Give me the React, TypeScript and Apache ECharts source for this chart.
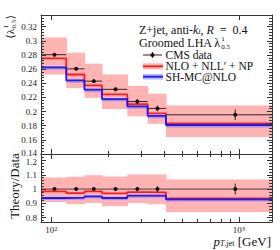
import React, { useEffect, useRef } from "react";
import * as echarts from "echarts";

// ---------------- data ----------------
const binEdges = [88, 120, 150, 186, 254, 326, 408, 1500];
const dataPtX = [103.8, 135.5, 168.3, 219.8, 287, 367.5, 955];

const cmsData = [0.2804, 0.2604, 0.243, 0.2314, 0.2142, 0.2044, 0.1954];
const cmsErr = [0.0022, 0.002, 0.0025, 0.0023, 0.0032, 0.004, 0.0075];
const nloValues = [0.2752, 0.2524, 0.237, 0.2244, 0.2104, 0.1974, 0.1834];
const nloLow = [0.2524, 0.2328, 0.2194, 0.2036, 0.1934, 0.1827, 0.164];
const nloHigh = [0.3046, 0.2832, 0.2678, 0.2524, 0.236, 0.2252, 0.2085];
const shValues = [0.2626, 0.244, 0.231, 0.2177, 0.2072, 0.194, 0.181];
const shLow = [0.2592, 0.2406, 0.2276, 0.2143, 0.2038, 0.1906, 0.1776];
const shHigh = [0.2634, 0.2448, 0.2318, 0.2185, 0.208, 0.1948, 0.1818];

const ratioData = [1, 1, 1, 1, 1, 1, 1];
const ratioErr = [0.008, 0.008, 0.01, 0.01, 0.015, 0.02, 0.038];
const nloRatio = [0.984, 0.972, 0.984, 0.97, 0.979, 0.977, 0.935];
const nloRatioLow = [0.91, 0.894, 0.903, 0.88, 0.903, 0.894, 0.84];
const nloRatioHigh = [1.081, 1.086, 1.097, 1.088, 1.102, 1.102, 1.067];
const shRatio = [0.9375, 0.94, 0.949, 0.9375, 0.954, 0.954, 0.928];
const shRatioLow = [0.924, 0.926, 0.935, 0.924, 0.94, 0.94, 0.914];
const shRatioHigh = [0.942, 0.944, 0.953, 0.942, 0.958, 0.958, 0.932];

const xMajorTicks = [100, 1000];
const xMinorTicks = [200, 300, 400, 500, 600, 700, 800, 900];
const topYTicks = [0.14, 0.16, 0.18, 0.2, 0.22, 0.24, 0.26, 0.28, 0.3, 0.32];
const ratioYTicks = [0.8, 0.9, 1, 1.1, 1.2];
const topYRange = [0.14, 0.3365];
const ratioYRange = [0.77, 1.245];

const legendLabels = ["CMS data", "NLO + NLL\u2032 + NP", "SH-MC@NLO"];

// ---------------- style ----------------
const FONT = '"Liberation Serif", "DejaVu Serif", serif';
const AXIS = "#333";
const RED = "#ff1a1a";
const BLUE = "#1a1aff";
const PINK = "#ffb3b3";
const LBLUE = "rgba(110,110,255,0.5)";
const DARK = "#222";

function minorTicks(majors: number[], sub: number, lo: number, hi: number) {
  const step = (majors[1] - majors[0]) / sub;
  const start = majors[0] - Math.floor((majors[0] - lo) / step + 1e-9) * step;
  const out: number[] = [];
  for (let k = 0; k < 500; k++) {
    const v = +(start + k * step).toFixed(5);
    if (v > hi + 1e-9) break;
    if (!majors.some((m) => Math.abs(m - v) < 1e-6)) out.push(v);
  }
  return out;
}

function measure(text: string, size: number, italic = false) {
  const c = document.createElement("canvas").getContext("2d")!;
  c.font = `${italic ? "italic " : ""}${size}px ${FONT}`;
  return c.measureText(text).width;
}

const stepData = (vals: number[]) =>
  vals.map((v, i) => [binEdges[i], v]).concat([[binEdges[binEdges.length - 1], vals[vals.length - 1]]]);
const bandData = (lo: number[], hi: number[]) => lo.map((l, i) => [binEdges[i], binEdges[i + 1], l, hi[i]]);
const pointData = (vals: number[], errs: number[]) =>
  vals.map((v, i) => [dataPtX[i], binEdges[i], binEdges[i + 1], v, errs[i]]);

function bandSeries(xi: number, yi: number, lo: number[], hi: number[], fill: string, extend: boolean, z: number) {
  const xMax = binEdges[binEdges.length - 1];
  return {
    type: "custom",
    xAxisIndex: xi,
    yAxisIndex: yi,
    z,
    silent: true,
    dimensions: ["x0", "x1", "lo", "hi"],
    encode: { x: [0, 1], y: [2, 3] },
    data: bandData(lo, hi),
    renderItem: (params: any, api: any) => {
      const x0 = api.value(0);
      const x1 = api.value(1);
      const a = api.coord([x0, api.value(3)]);
      const b = api.coord([x1, api.value(2)]);
      const ext = extend && x1 < xMax ? 0.7 : 0;
      return {
        type: "rect",
        shape: { x: a[0], y: a[1], width: b[0] - a[0] + ext, height: b[1] - a[1] },
        style: { fill },
      };
    },
  };
}

function stepSeries(xi: number, yi: number, vals: number[], color: string, z: number) {
  return {
    type: "line",
    xAxisIndex: xi,
    yAxisIndex: yi,
    z,
    step: "end",
    silent: true,
    showSymbol: false,
    symbol: "none",
    data: stepData(vals),
    lineStyle: { color, width: 1.8 },
  };
}

function pointSeries(xi: number, yi: number, vals: number[], errs: number[], z: number, lineColor: string) {
  return {
    type: "custom",
    xAxisIndex: xi,
    yAxisIndex: yi,
    z,
    silent: true,
    dimensions: ["x", "xl", "xh", "y", "e"],
    encode: { x: [0, 1, 2], y: [3] },
    data: pointData(vals, errs),
    renderItem: (params: any, api: any) => {
      const x = api.value(0);
      const y = api.value(3);
      const e = api.value(4);
      const c = api.coord([x, y]);
      const l = api.coord([api.value(1), y]);
      const h = api.coord([api.value(2), y]);
      const t = api.coord([x, y + e]);
      const b = api.coord([x, y - e]);
      return {
        type: "group",
        children: [
          { type: "line", shape: { x1: l[0], y1: l[1], x2: h[0], y2: h[1] }, style: { stroke: lineColor, lineWidth: 1 } },
          { type: "line", shape: { x1: t[0], y1: t[1], x2: b[0], y2: b[1] }, style: { stroke: DARK, lineWidth: 1 } },
          { type: "circle", shape: { cx: c[0], cy: c[1], r: 2 }, style: { fill: "#111" } },
        ],
      };
    },
  };
}

function xAxis(gridIndex: number, position: string, ticks: number[], len: number, line: boolean, labels: boolean) {
  return {
    type: "log",
    logBase: 10,
    gridIndex,
    position,
    min: binEdges[0],
    max: binEdges[binEdges.length - 1],
    z: 10,
    silent: true,
    splitLine: { show: false },
    minorTick: { show: false },
    minorSplitLine: { show: false },
    axisLine: { show: line, onZero: false, lineStyle: { color: AXIS, width: 1 } },
    axisTick: { show: true, inside: true, length: len, customValues: ticks, lineStyle: { color: AXIS, width: 1 } },
    axisLabel: labels
      ? {
          show: true,
          customValues: ticks,
          margin: 3,
          formatter: (v: number) => `{b|10}{s|${Math.round(Math.log10(v))}}`,
          rich: {
            b: { fontSize: 9, fontFamily: FONT, color: "#222" },
            s: { fontSize: 6.5, fontFamily: FONT, color: "#222", verticalAlign: "top", padding: [0, 0, 3, 0] },
          },
        }
      : { show: false },
  };
}

const labelRich = {
  n: { fontSize: 9, fontFamily: FONT, color: "#222" },
  up: { fontSize: 9, fontFamily: FONT, color: "#222", padding: [0, 0, 3, 0] },
  dn: { fontSize: 9, fontFamily: FONT, color: "#222", padding: [3, 0, 0, 0] },
};

function yAxis(
  gridIndex: number,
  position: string,
  range: number[],
  ticks: number[],
  len: number,
  line: boolean,
  labels: boolean,
  shiftValue: number | null = null,
  shiftStyle = "n"
) {
  return {
    type: "value",
    gridIndex,
    position,
    min: range[0],
    max: range[1],
    z: 10,
    silent: true,
    splitLine: { show: false },
    minorTick: { show: false },
    axisLine: { show: line, onZero: false, lineStyle: { color: AXIS, width: 1 } },
    axisTick: { show: true, inside: true, length: len, customValues: ticks, lineStyle: { color: AXIS, width: 1 } },
    axisLabel: labels
      ? {
          show: true,
          customValues: ticks,
          margin: 4,
          fontSize: 9,
          fontFamily: FONT,
          color: "#222",
          rich: labelRich,
          formatter: (v: number) => {
            const s = String(+(+v).toFixed(2));
            const st = shiftValue !== null && Math.abs(+v - shiftValue) < 1e-6 ? shiftStyle : "n";
            return `{${st}|${s}}`;
          },
        }
      : { show: false },
  };
}

function txt(x: number, y: number, text: string, size: number, extra: any = {}) {
  return {
    type: "text",
    x,
    y,
    silent: true,
    style: {
      text,
      fontSize: size,
      fontFamily: FONT,
      fill: "#111",
      textAlign: "left",
      align: "left",
      textVerticalAlign: "middle",
      verticalAlign: "middle",
      ...extra,
    },
  };
}

function buildOption() {
  const topMinors = minorTicks(topYTicks, 5, topYRange[0], topYRange[1]);
  const ratioMinors = minorTicks(ratioYTicks, 5, ratioYRange[0], ratioYRange[1]);

  // rotated <lambda^1_0.5> title
  const wA = measure("\u27e8\u03bb", 11);
  const wSub = measure("0.5", 7);
  const wB = measure("\u27e9", 11);
  const total = wA + wSub + 1 + wB;
  const lamTitle = {
    type: "group",
    x: 10,
    y: 15 + total,
    rotation: Math.PI / 2,
    children: [
      txt(0, 0, "\u27e8\u03bb", 11),
      txt(wA + 0.5, -4, "1", 7),
      txt(wA + 0.5, 3.5, "0.5", 7),
      txt(wA + wSub + 1, 0, "\u27e9", 11),
    ],
  };

  const wG = measure("Groomed LHA \u03bb", 12);

  const graphic: any[] = [
    lamTitle,
    {
      ...txt(14, 186, "Theory/Data", 13, { textAlign: "center", align: "center" }),
      rotation: Math.PI / 2,
    },
    {
      type: "text",
      x: 271,
      y: 241,
      silent: true,
      style: {
        text: "{i|p}{s|T}{u|,jet}{r| [GeV]}",
        textAlign: "right",
        align: "right",
        textVerticalAlign: "middle",
        verticalAlign: "middle",
        fill: "#111",
        rich: {
          i: { fontSize: 13, fontStyle: "italic", fontFamily: FONT, color: "#111" },
          s: { fontSize: 8, fontStyle: "italic", fontFamily: FONT, color: "#111", verticalAlign: "bottom" },
          u: { fontSize: 8, fontFamily: FONT, color: "#111", verticalAlign: "bottom" },
          r: { fontSize: 13, fontFamily: FONT, color: "#111" },
        },
      },
    },
    {
      type: "text",
      x: 139,
      y: 29.5,
      silent: true,
      style: {
        text: "{r|Z+jet, anti-}{i|k}{s|t}{r|, }{i|R}{r|\u2002=\u20020.4}",
        textAlign: "left",
        align: "left",
        textVerticalAlign: "middle",
        verticalAlign: "middle",
        fill: "#111",
        rich: {
          r: { fontSize: 12, fontFamily: FONT, color: "#111" },
          i: { fontSize: 12, fontStyle: "italic", fontFamily: FONT, color: "#111" },
          s: { fontSize: 7.5, fontStyle: "italic", fontFamily: FONT, color: "#111", verticalAlign: "bottom" },
        },
      },
    },
    txt(139, 42.5, "Groomed LHA \u03bb", 12),
    txt(139 + wG + 0.5, 39, "1", 7),
    txt(139 + wG + 0.5, 46.5, "0.5", 7),
    // legend: CMS data
    { type: "line", silent: true, shape: { x1: 143, y1: 55, x2: 162, y2: 55 }, style: { stroke: DARK, lineWidth: 1 } },
    { type: "line", silent: true, shape: { x1: 152.5, y1: 52, x2: 152.5, y2: 58 }, style: { stroke: DARK, lineWidth: 1 } },
    { type: "circle", silent: true, shape: { cx: 152.5, cy: 55, r: 2 }, style: { fill: "#111" } },
    txt(165.5, 55, legendLabels[0], 11.5),
    // legend: NLO
    { type: "rect", silent: true, shape: { x: 143, y: 63.3, width: 20, height: 6 }, style: { fill: PINK } },
    { type: "line", silent: true, shape: { x1: 143, y1: 66.3, x2: 163, y2: 66.3 }, style: { stroke: RED, lineWidth: 1.8 } },
    txt(165.5, 66, legendLabels[1], 11.5),
    // legend: SH
    { type: "rect", silent: true, shape: { x: 143, y: 74, width: 20, height: 5.5 }, style: { fill: LBLUE } },
    { type: "line", silent: true, shape: { x1: 143, y1: 76.7, x2: 163, y2: 76.7 }, style: { stroke: BLUE, lineWidth: 1.8 } },
    txt(165.5, 77, legendLabels[2], 11.5),
  ];

  return {
    animation: false,
    backgroundColor: "#fff",
    grid: [
      { left: 41, top: 15, width: 231, height: 139, outerBoundsMode: "none", containLabel: false },
      { left: 41, top: 154, width: 231, height: 68, outerBoundsMode: "none", containLabel: false },
    ],
    xAxis: [
      xAxis(0, "bottom", xMajorTicks, 5, true, false), // 0 main top panel
      xAxis(0, "bottom", xMinorTicks, 3, false, false),
      xAxis(0, "top", xMajorTicks, 5, true, false),
      xAxis(1, "bottom", xMajorTicks, 5, true, true), // 3 main ratio panel
      xAxis(1, "bottom", xMinorTicks, 3, false, false),
      xAxis(1, "top", xMajorTicks, 5, true, false),
      xAxis(1, "top", xMinorTicks, 3, false, false),
    ],
    yAxis: [
      yAxis(0, "left", topYRange, topYTicks, 5, true, true, topYTicks[0], "up"), // 0 main top
      yAxis(0, "left", topYRange, topMinors, 3, false, false),
      yAxis(0, "right", topYRange, topYTicks, 5, true, false),
      yAxis(0, "right", topYRange, topMinors, 3, false, false),
      yAxis(1, "left", ratioYRange, ratioYTicks, 5, true, true, ratioYTicks[ratioYTicks.length - 1], "dn"), // 4 main ratio
      yAxis(1, "left", ratioYRange, ratioMinors, 3, false, false),
      yAxis(1, "right", ratioYRange, ratioYTicks, 5, true, false),
      yAxis(1, "right", ratioYRange, ratioMinors, 3, false, false),
    ],
    series: [
      bandSeries(0, 0, nloLow, nloHigh, PINK, true, 1),
      bandSeries(0, 0, shLow, shHigh, LBLUE, false, 2),
      stepSeries(0, 0, nloValues, RED, 3),
      stepSeries(0, 0, shValues, BLUE, 3),
      pointSeries(0, 0, cmsData, cmsErr, 4, "#2a2a2a"),
      bandSeries(3, 4, nloRatioLow, nloRatioHigh, PINK, true, 1),
      bandSeries(3, 4, shRatioLow, shRatioHigh, LBLUE, false, 2),
      stepSeries(3, 4, nloRatio, RED, 3),
      stepSeries(3, 4, shRatio, BLUE, 3),
      pointSeries(3, 4, ratioData, ratioErr, 4, "#444"),
    ],
    graphic,
  };
}

export default function App() {
  const ref = useRef<HTMLDivElement>(null);
  useEffect(() => {
    if (!ref.current) return;
    const chart = echarts.init(ref.current, null, { renderer: "svg" });
    chart.setOption(buildOption() as any);
    return () => chart.dispose();
  }, []);
  return (
    <div
      ref={ref}
      style={{ position: "fixed", left: 0, top: 0, width: 280, height: 250, background: "#fff" }}
    />
  );
}
